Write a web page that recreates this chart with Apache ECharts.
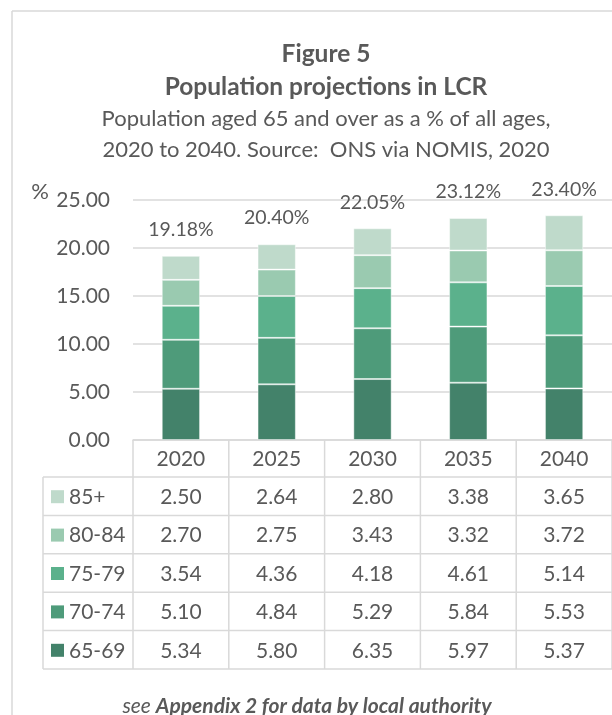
<!DOCTYPE html>
<html>
<head>
<meta charset="utf-8">
<script src="https://cdn.jsdelivr.net/npm/echarts@6/dist/echarts.min.js"></script>
<style>
  html, body { margin: 0; padding: 0; background: #ffffff; }
  #chart { width: 612px; height: 715px; }
</style>
</head>
<body>
<div id="chart"></div>
<script>
// Projection years (table columns / bar categories)
const years = ['2020', '2025', '2030', '2035', '2040'];

// Age bands, bottom of stack first
const ageBands = ['65-69', '70-74', '75-79', '80-84', '85+'];

// Share of all ages (%) for each age band
const age65to69 = [5.34, 5.80, 6.35, 5.97, 5.37];
const age70to74 = [5.10, 4.84, 5.29, 5.84, 5.53];
const age75to79 = [3.54, 4.36, 4.18, 4.61, 5.14];
const age80to84 = [2.70, 2.75, 3.43, 3.32, 3.72];
const age85plus = [2.50, 2.64, 2.80, 3.38, 3.65];

// Total aged 65 and over (%)
const totals65plus = [19.18, 20.40, 22.05, 23.12, 23.40];

// Value axis ticks
const yTicks = [0, 5, 10, 15, 20, 25];

const bandValues = [age65to69, age70to74, age75to79, age80to84, age85plus];
const bandColors = ['#43826a', '#4e9b7a', '#5bb18c', '#9acab0', '#bfdacb'];

const FONT = 'Lato, "Open Sans", sans-serif';
const TEXT = '#595959';
const RULE = '#d9d9d9';

const chart = echarts.init(document.getElementById('chart'), null, { renderer: 'canvas' });

const series = ageBands.map((name, k) => ({
  name: name,
  type: 'bar',
  stack: 'age',
  barWidth: '40%',
  data: bandValues[k],
  itemStyle: { color: bandColors[k], borderColor: 'rgba(255,255,255,0.45)', borderWidth: 1 },
  emphasis: { disabled: true },
  silent: true
}));

// Invisible overlay carrying the total labels
series.push({
  name: 'total',
  type: 'bar',
  barWidth: '40%',
  barGap: '-100%',
  data: totals65plus,
  itemStyle: { color: 'rgba(0,0,0,0)' },
  label: {
    show: true,
    position: 'top',
    distance: 16,
    formatter: p => p.value.toFixed(2) + '%',
    color: TEXT,
    fontFamily: FONT,
    fontSize: 19.5
  },
  z: 1,
  silent: true
});

chart.setOption({
  animation: false,
  backgroundColor: '#ffffff',
  title: [
    {
      text: 'Figure 5\nPopulation projections in LCR',
      left: 321,
      top: 33,
      textAlign: 'center',
      textStyle: { fontFamily: FONT, fontWeight: 'bold', fontSize: 24.5, color: TEXT, lineHeight: 33 }
    },
    {
      text: 'Population aged 65 and over as a % of all ages,\n2020 to 2040. Source:  ONS via NOMIS, 2020',
      left: 321,
      top: 98,
      textAlign: 'center',
      textStyle: { fontFamily: FONT, fontWeight: 'normal', fontSize: 22, color: TEXT, lineHeight: 31 }
    }
  ],
  grid: { left: 133, top: 200, width: 485, height: 240, containLabel: false },
  xAxis: {
    type: 'category',
    data: years,
    axisLine: { show: true, lineStyle: { color: RULE, width: 1.5 } },
    axisTick: { show: false },
    axisLabel: { show: false },
    splitLine: { show: false }
  },
  yAxis: {
    type: 'value',
    min: yTicks[0],
    max: yTicks[yTicks.length - 1],
    interval: yTicks[1] - yTicks[0],
    axisLine: { show: false },
    axisTick: { show: false },
    axisLabel: {
      formatter: v => v.toFixed(2),
      color: TEXT,
      fontFamily: FONT,
      fontSize: 21,
      margin: 23
    },
    splitLine: { lineStyle: { color: RULE, width: 1.5 } }
  },
  series: series
});

// Data table under the plot, aligned with the category bands
function drawTable() {
  const c0 = chart.convertToPixel({ xAxisIndex: 0 }, 0);
  const c1 = chart.convertToPixel({ xAxisIndex: 0 }, 1);
  const band = c1 - c0;
  const x0 = c0 - band / 2;
  const xEnd = x0 + band * years.length;
  const yTop = chart.convertToPixel({ yAxisIndex: 0 }, 0);
  const headerH = 37;
  const rowH = 38.4;
  const legendLeft = 43;
  const rowsTop = yTop + headerH;
  const rowsBottom = rowsTop + rowH * ageBands.length;
  const lineStyle = { stroke: RULE, lineWidth: 1.5 };
  const g = [];

  // horizontal rules
  for (let r = 0; r <= ageBands.length; r++) {
    const y = rowsTop + r * rowH;
    g.push({ type: 'line', shape: { x1: legendLeft, y1: y, x2: xEnd, y2: y }, style: lineStyle, silent: true });
  }
  // vertical rules
  g.push({ type: 'line', shape: { x1: legendLeft, y1: rowsTop, x2: legendLeft, y2: rowsBottom }, style: lineStyle, silent: true });
  for (let i = 0; i <= years.length; i++) {
    const x = x0 + i * band;
    g.push({ type: 'line', shape: { x1: x, y1: yTop, x2: x, y2: rowsBottom }, style: lineStyle, silent: true });
  }
  // year headers
  years.forEach((yr, i) => {
    g.push({
      type: 'text', silent: true,
      style: { text: yr, x: x0 + (i + 0.5) * band, y: yTop + headerH / 2 + 1, textAlign: 'center', textVerticalAlign: 'middle',
               fill: TEXT, font: '21px ' + FONT }
    });
  });
  // rows: top row is the highest age band
  for (let r = 0; r < ageBands.length; r++) {
    const k = ageBands.length - 1 - r;
    const yc = rowsTop + (r + 0.5) * rowH + 1;
    g.push({ type: 'rect', silent: true, shape: { x: 51, y: yc - 7, width: 13, height: 13 }, style: { fill: bandColors[k] } });
    g.push({
      type: 'text', silent: true,
      style: { text: ageBands[k], x: 69, y: yc, textAlign: 'left', textVerticalAlign: 'middle', fill: TEXT, font: '21px ' + FONT }
    });
    bandValues[k].forEach((v, i) => {
      g.push({
        type: 'text', silent: true,
        style: { text: v.toFixed(2), x: x0 + (i + 0.5) * band, y: yc, textAlign: 'center', textVerticalAlign: 'middle',
                 fill: TEXT, font: '21px ' + FONT }
      });
    });
  }
  // unit marker beside the value axis
  g.push({
    type: 'text', silent: true,
    style: { text: '%', x: 40, y: 192, textAlign: 'center', textVerticalAlign: 'middle', fill: TEXT, font: '22px ' + FONT }
  });
  // footnote
  g.push({
    type: 'text', silent: true,
    style: {
      text: '{r|see }{b|Appendix 2 for data by local authority}',
      x: 307, y: 706, textAlign: 'center', textVerticalAlign: 'middle',
      rich: {
        r: { fontFamily: FONT, fontStyle: 'italic', fontSize: 21, fill: TEXT, color: TEXT },
        b: { fontFamily: FONT, fontStyle: 'italic', fontWeight: 'bold', fontSize: 21, fill: TEXT, color: TEXT }
      }
    }
  });
  // chart frame
  g.push({ type: 'line', silent: true, shape: { x1: 12, y1: 11, x2: 612, y2: 11 }, style: { stroke: RULE, lineWidth: 1.5 } });
  g.push({ type: 'line', silent: true, shape: { x1: 12, y1: 11, x2: 12, y2: 715 }, style: { stroke: RULE, lineWidth: 1.5 } });

  chart.setOption({ graphic: g });
}
drawTable();
</script>
</body>
</html>
